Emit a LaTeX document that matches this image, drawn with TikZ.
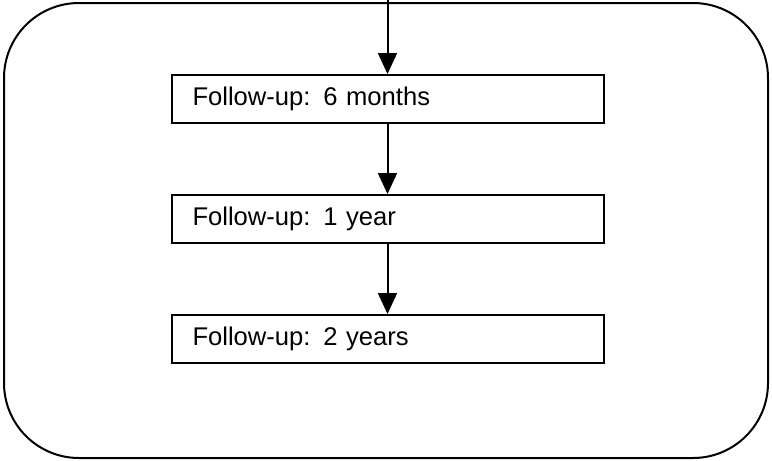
\documentclass[tikz,border=0pt]{standalone}
\usepackage{fontspec}
\setmainfont{Liberation Sans}
\usetikzlibrary{arrows.meta}

\begin{document}
\begin{tikzpicture}[x=0.5pt,y=-0.5pt,line width=1pt,
  fubox/.style={shape=rectangle,draw=black,text width=195pt,inner xsep=10.5pt,
    minimum height=24pt,align=left,font=\fontsize{12.8}{15}\selectfont},
  >={Triangle[length=10.5pt,width=9.5pt]}]
\useasboundingbox (0,0) rectangle (772,461);
\draw[rounded corners=37.5pt] (4,3) rectangle (768,458);

\coordinate (top) at (387.5,0);
\node[fubox] (m6) at (387.5,99) {Follow-up: 6 months};
\node[fubox] (y1) at (387.5,219) {Follow-up: 1 year};
\node[fubox] (y2) at (387.5,339) {Follow-up: 2 years};

\draw[->] (top) -- (m6);
\draw[->] (m6) -- (y1);
\draw[->] (y1) -- (y2);
\end{tikzpicture}
\end{document}
